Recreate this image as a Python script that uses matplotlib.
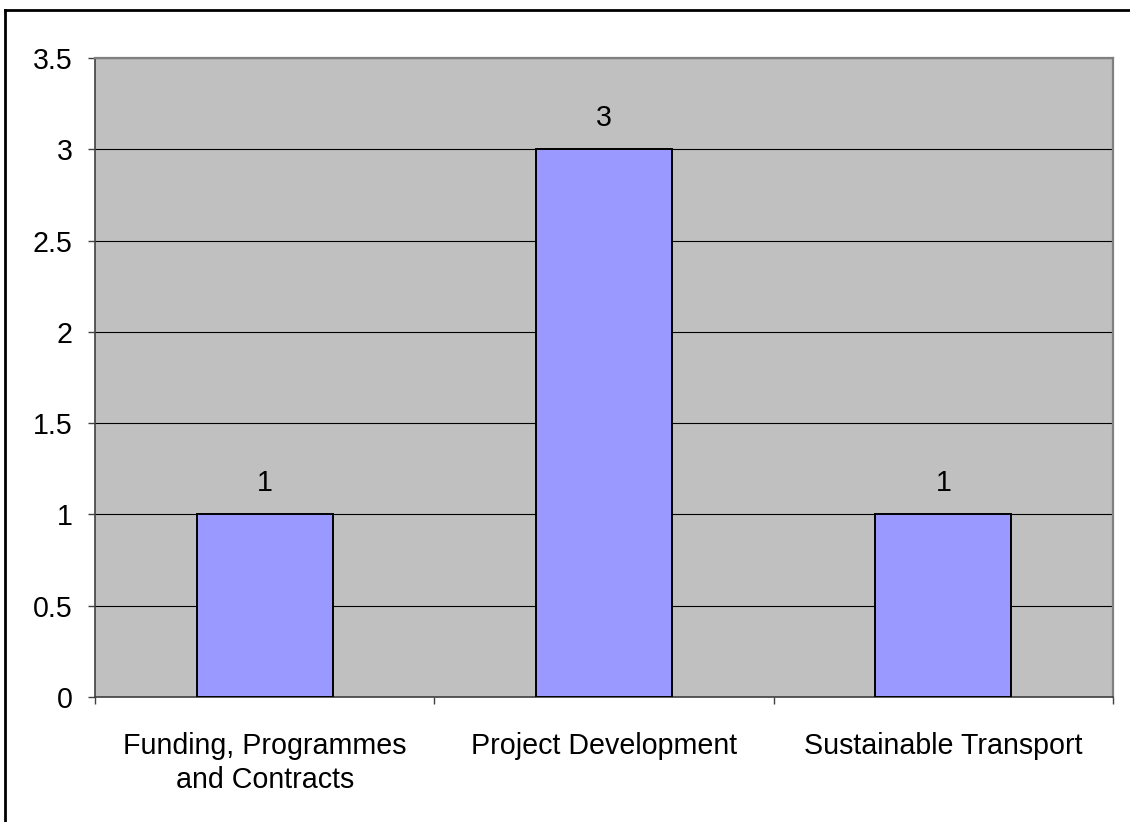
import matplotlib
matplotlib.use("Agg")
import matplotlib.pyplot as plt
from matplotlib.lines import Line2D
import numpy as np

categories = ["Funding, Programmes\nand Contracts", "Project Development", "Sustainable Transport"]
values = [1, 3, 1]
y_ticks = [0, 0.5, 1, 1.5, 2, 2.5, 3, 3.5]
y_tick_labels = ["0", "0.5", "1", "1.5", "2", "2.5", "3", "3.5"]

plt.rcParams['font.family'] = ['Liberation Sans', 'DejaVu Sans']
FS = 20.6

fig = plt.figure(figsize=(11.3, 8.22), dpi=100)
ax = fig.add_axes([95/1130, 1-697/822, (1113-95)/1130, (697-58)/822])
ax.set_facecolor('#C0C0C0')

x = np.arange(len(categories))
bars = ax.bar(x, values, width=0.4, color='#9999FF', edgecolor='black', linewidth=1.4, zorder=3)

ax.set_xlim(-0.5, len(categories) - 0.5)
ax.set_ylim(0, 3.5)
ax.set_yticks(y_ticks)
ax.set_yticklabels(y_tick_labels, fontsize=FS)
ax.yaxis.grid(True, color='black', linewidth=0.8, zorder=1)
ax.set_axisbelow(True)

ax.set_xticks(x)
ax.set_xticklabels(categories, fontsize=FS, linespacing=1.3)
ax.set_xticks(np.arange(-0.5, len(categories), 1.0), minor=True)
ax.tick_params(axis='x', which='major', length=0, pad=25)
ax.tick_params(axis='x', which='minor', length=5, width=1, color='#404040', direction='out')
ax.tick_params(axis='y', length=5, width=1, color='#404040', direction='out', pad=11)

for s in ['left', 'bottom']:
    ax.spines[s].set_color('#404040')
    ax.spines[s].set_linewidth(1.2)
for s in ['top', 'right']:
    ax.spines[s].set_color('#808080')
    ax.spines[s].set_linewidth(1.6)

for xi, v in zip(x, values):
    ax.annotate(f"{v}", (xi, v), xytext=(0, 17), textcoords='offset points',
                ha='center', va='baseline', fontsize=FS, color='black')

# outer chart border (left and top visible)
fig.add_artist(Line2D([5/1130, 5/1130], [0, 1-10/822], transform=fig.transFigure, color='black', linewidth=2))
fig.add_artist(Line2D([5/1130, 1], [1-10/822, 1-10/822], transform=fig.transFigure, color='black', linewidth=2))

fig.savefig('out.png', dpi=100, facecolor='white')
